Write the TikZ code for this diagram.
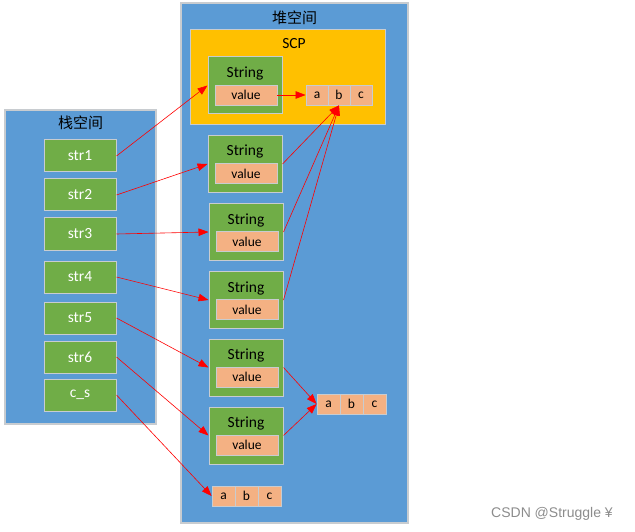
\documentclass[tikz,border=0pt]{standalone}
\usepackage{fontspec}
\setmainfont{Carlito}
\newfontfamily\cjk{Noto Sans CJK SC}
\newfontfamily\wm{Liberation Sans}
\usetikzlibrary{arrows.meta}
\definecolor{heapblue}{HTML}{5B9BD5}
\definecolor{boxgreen}{HTML}{70AD47}
\definecolor{scporange}{HTML}{FFC000}
\definecolor{valpeach}{HTML}{F4B183}
\definecolor{edgegray}{HTML}{C8CCD0}
\definecolor{arrowred}{HTML}{FF0000}
\tikzset{
  region/.style={draw=edgegray, line width=1.2pt, fill=heapblue, inner sep=0pt},
  scpbox/.style={draw=edgegray, line width=1pt, fill=scporange, minimum width=195pt, minimum height=95pt, inner sep=0pt},
  strobj/.style={draw=edgegray, line width=1pt, fill=boxgreen, minimum width=74pt, minimum height=57pt, inner sep=0pt},
  valbox/.style={draw=edgegray, line width=0.8pt, fill=valpeach, minimum width=62pt, minimum height=20pt, inner sep=0pt, font=\fontsize{13.5}{15}\selectfont},
  cell/.style={draw=edgegray, line width=0.8pt, fill=valpeach, minimum width=22pt, minimum height=20pt, inner sep=0pt, font=\fontsize{13.5}{15}\selectfont},
  stackvar/.style={draw=edgegray, line width=1pt, fill=boxgreen, minimum width=72pt, minimum height=32pt, inner sep=0pt, text=white, font=\fontsize{15.5}{18}\selectfont},
  biglabel/.style={font=\fontsize{15.5}{18}\selectfont, inner sep=0pt},
  ref/.style={draw=arrowred, line width=0.6pt, -{Triangle[length=10pt,width=7.5pt]}}
}
\begin{document}
\begin{tikzpicture}[x=1pt,y=-1pt]
\useasboundingbox (0,0) rectangle (635,532);
% regions
\node[region, minimum width=227pt, minimum height=520pt] (heap) at (294.5,263) {};
\node[biglabel, font=\cjk\fontsize{15}{18}\selectfont] (heapt) at (294.5,18) {堆空间};
\node[region, minimum width=151pt, minimum height=314pt] (stack) at (80.5,267) {};
\node[biglabel, font=\cjk\fontsize{15}{18}\selectfont] (stackt) at (80.5,123) {栈空间};
\node[scpbox] (scp) at (287.5,77.5) {};
\node[biglabel] (scpt) at (294,44) {SCP};
% String objects
\foreach \i/\x/\y in {1/245/85.5, 2/245/164, 3/246/232, 4/246/300, 5/246/367.5, 6/246/435.5}{
  \node[strobj] (S\i) at (\x,\y) {};
  \node[biglabel] (St\i) at (\x,\y-12) {String};
  \node[valbox] (V\i) at (\x+1,\y+9.5) {value};
}
% char arrays
\node[cell] (pa) at (317,95) {a};
\node[cell] (pb) at (339,95) {b};
\node[cell] (pc) at (361,95) {c};
\node[cell, minimum width=23pt] (ma) at (328.5,404) {a};
\node[cell, minimum width=23pt] (mb) at (351.5,404) {b};
\node[cell, minimum width=23pt] (mc) at (374.5,404) {c};
\node[cell, minimum width=23pt] (ba) at (223.5,496) {a};
\node[cell, minimum width=23pt] (bb) at (246.5,496) {b};
\node[cell, minimum width=23pt] (bc) at (269.5,496) {c};
% stack variables
\node[stackvar] (str1) at (80,156) {str1};
\node[stackvar] (str2) at (80,195) {str2};
\node[stackvar] (str3) at (80,234) {str3};
\node[stackvar] (str4) at (80,277) {str4};
\node[stackvar] (str5) at (80,318) {str5};
\node[stackvar] (str6) at (80,357) {str6};
\node[stackvar] (cs) at (80,395) {c\_s};
% references
\draw[ref] (str1.east) -- (S1.west);
\draw[ref] (str2.east) -- (S2.west);
\draw[ref] (str3.east) -- (S3.west);
\draw[ref] (str4.east) -- (S4.west);
\draw[ref] (str5.east) -- (S5.west);
\draw[ref] (str6.east) -- (S6.west);
\draw[ref] (cs.east) -- (ba.west);
\draw[ref] (V1.east) -- (pa.west);
\draw[ref] (S2.east) -- (pb.south);
\draw[ref] (S3.east) -- (pb.south);
\draw[ref] (S4.east) -- (pb.south);
\draw[ref] (S5.east) -- (ma.west);
\draw[ref] (S6.east) -- (ma.west);
% watermark
\node[font=\wm\fontsize{14}{16}\selectfont, text=black!45, inner sep=0pt] (wmk) at (552,514) {CSDN @Struggle ¥};
\end{tikzpicture}
\end{document}
